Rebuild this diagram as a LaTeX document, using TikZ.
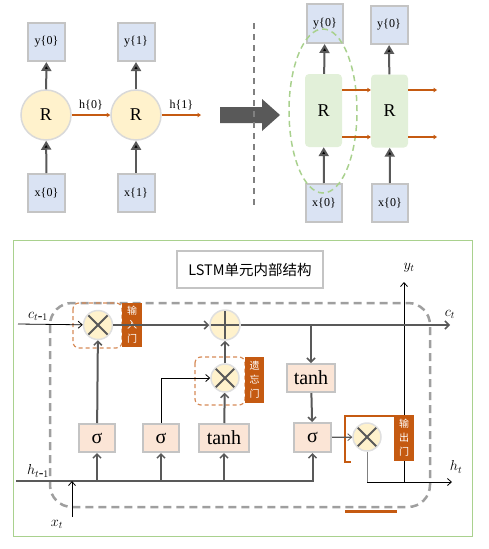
\documentclass[tikz,border=0pt]{standalone}
\usepackage{fontspec}
\setmainfont{Liberation Serif}
\newfontfamily\cjk{Noto Sans CJK SC}
\usetikzlibrary{arrows.meta}
\definecolor{boxblue}{HTML}{DAE3F3}
\definecolor{boxgray}{HTML}{C4C4C4}
\definecolor{cellyel}{HTML}{FFF2CC}
\definecolor{cellgrn}{HTML}{E2F0D9}
\definecolor{lightgrn}{HTML}{A9D18E}
\definecolor{gateorg}{HTML}{C55A11}
\definecolor{actpink}{HTML}{FBE5D6}
\definecolor{linegray}{HTML}{595959}
\newcommand{\sgm}{σ}
\newcommand{\io}[1]{\fontsize{12}{12}\selectfont #1}
\newcommand{\tm}{{t\mbox{-}1}}

\begin{document}
\begin{tikzpicture}[x=1pt,y=-1pt,
  iobox/.style={draw=boxgray,line width=2pt,fill=boxblue,inner sep=0pt,font=\io},
  rcirc/.style={circle,draw=gray!30,line width=1.5pt,fill=cellyel,minimum size=50pt,inner sep=0pt,font=\fontsize{18}{18}\selectfont},
  rcell/.style={rounded corners=4pt,fill=cellgrn,minimum width=37pt,minimum height=73pt,inner sep=0pt,font=\fontsize{18}{18}\selectfont},
  up/.style={draw=linegray,line width=2pt,-{Triangle[length=9pt,width=10pt,fill=black]}},
  hline/.style={draw=gateorg,line width=1.2pt,-{Straight Barb[length=3pt,width=4pt,line width=0.6pt]}},
  act/.style={draw=boxgray,line width=2pt,fill=actpink,minimum height=28pt,inner sep=0pt,font=\fontsize{20}{20}\selectfont},
  mul/.style={circle,draw=gray!25,line width=1.5pt,fill=cellyel,minimum size=29pt,inner sep=0pt,
    path picture={\draw[linegray,line width=1.8pt] (path picture bounding box.north west) -- (path picture bounding box.south east)
      (path picture bounding box.north east) -- (path picture bounding box.south west);}},
  addc/.style={circle,draw=gray!25,line width=1.5pt,fill=cellyel,minimum size=30pt,inner sep=0pt,
    path picture={\draw[linegray,line width=1.8pt] (path picture bounding box.north) -- (path picture bounding box.south)
      (path picture bounding box.east) -- (path picture bounding box.west);}},
  gate/.style={fill=gateorg,text=white,inner sep=0pt,minimum width=20pt,align=center,font=\cjk\fontsize{10}{14}\selectfont},
  big/.style={draw=linegray,line width=2pt,-{Straight Barb[length=4pt,width=8pt,line width=1.5pt]}},
  thin/.style={draw=black,line width=0.8pt,-{Straight Barb[length=4pt,width=7pt,line width=0.8pt]}},
  lab/.style={font=\fontsize{12}{12}\selectfont},
  var/.style={font=\fontsize{14}{14}\selectfont}]
  \useasboundingbox (0,0) rectangle (488,549);
  % unrolled RNN
  \node[iobox,minimum width=37pt,minimum height=38pt] (y0) at (46.5,42) {y\{0\}};
  \node[iobox,minimum width=37pt,minimum height=38pt] (y1) at (136,42) {y\{1\}};
  \node[rcirc] (r0) at (46,115) {R};
  \node[rcirc] (r1) at (136,115) {R};
  \node[iobox,minimum width=37pt,minimum height=38pt] (x0) at (46.5,193) {x\{0\}};
  \node[iobox,minimum width=37pt,minimum height=38pt] (x1) at (136,193) {x\{1\}};
  \coordinate (h1end) at (201,115);
  \draw[up] (x0) -- (r0);
  \draw[up] (r0) -- (y0);
  \draw[up] (x1) -- (r1);
  \draw[up] (r1) -- (y1);
  \draw[hline] (r0) -- (r1) node[midway,above=1pt,lab,text=black]{h\{0\}};
  \draw[hline] (r1) -- (h1end) node[midway,above=1pt,lab,text=black]{h\{1\}};
  \fill[linegray] (220,107) -- (262,107) -- (262,99) -- (280,115) -- (262,131) -- (262,123) -- (220,123) -- cycle;
  \draw[gray,line width=1.5pt,dash pattern=on 6pt off 5pt] (254,23) -- (254,208);
  \node[iobox,minimum width=36pt,minimum height=39pt] (ya) at (325,23.5) {y\{0\}};
  \node[iobox,minimum width=37pt,minimum height=38pt] (yb) at (389,25) {y\{0\}};
  \node[rcell] (ra) at (323.5,110.5) {R};
  \node[rcell] (rb) at (389.5,111) {R};
  \node[iobox,minimum width=36pt,minimum height=38pt] (xa) at (324,203) {x\{0\}};
  \node[iobox,minimum width=36pt,minimum height=38pt] (xb) at (390,203) {x\{0\}};
  \draw[lightgrn,line width=1.5pt,dash pattern=on 6pt off 4pt] (323,111) ellipse [x radius=34pt,y radius=82pt];
  \draw[up] (xa) -- (ra);
  \draw[up] (ra) -- (ya);
  \draw[up] (xb) -- (rb);
  \draw[up] (rb) -- (yb);
  \coordinate (hu) at (0,90);
  \coordinate (hd) at (0,137);
  \coordinate (huend) at (437,90);
  \coordinate (hdend) at (437,137);
  \draw[hline] (ra.east |- hu) -- (rb.west |- hu);
  \draw[hline] (ra.east |- hd) -- (rb.west |- hd);
  \draw[hline] (rb.east |- hu) -- (huend);
  \draw[hline] (rb.east |- hd) -- (hdend);
  % LSTM cell
  \draw[lightgrn,line width=1pt] (13,240) rectangle (472,536);
  \node[draw=boxgray,line width=2pt,fill=white,minimum width=146pt,minimum height=37pt,inner sep=0pt,
    font=\cjk\fontsize{14.5}{14.5}\selectfont] (title) at (250,269.5) {LSTM单元内部结构};
  \draw[gray!75,line width=2.5pt,dash pattern=on 8pt off 5pt,rounded corners=22pt] (50,303) rectangle (430,507);
  \draw[gateorg!70,line width=1.2pt,dash pattern=on 4pt off 3pt,rounded corners=6pt] (73,303) rectangle (122,348);
  \draw[gateorg!70,line width=1.2pt,dash pattern=on 4pt off 3pt,rounded corners=6pt] (195,357) rectangle (245,405);
  \draw[gateorg,line width=1.5pt] (397,416) -- (345,416) -- (345,462) -- (351,462);
  \draw[gateorg,line width=3pt] (345,511) -- (397,511);
  \coordinate (yj) at (404,482);
  \coordinate (yout) at (404,282);
  \draw[thin] (yj) -- (yout);
  \node[var] at (409,268) {$y_t$};
  \node[mul] (mi) at (98,325) {};
  \node[addc] (pl) at (225,325) {};
  \node[mul,minimum size=28pt] (mf) at (225,378) {};
  \node[mul,minimum size=28pt] (mo) at (367,437) {};
  \node[act,minimum width=36pt] (s1) at (97,438) {\sgm};
  \node[act,minimum width=36pt] (s2) at (161,438) {\sgm};
  \node[act,minimum width=50pt] (t1) at (224,438) {tanh};
  \node[act,minimum width=48pt] (t2) at (311,378) {tanh};
  \node[act,minimum width=37pt,minimum height=29pt] (s3) at (312.5,437.5) {\sgm};
  \node[gate,minimum height=44pt] (gi) at (132,325) {输\\入\\门};
  \node[gate,minimum height=46pt,minimum width=19pt] (gf) at (254.5,380) {遗\\忘\\门};
  \node[gate,minimum height=46pt] (go) at (404,438) {输\\出\\门};
  \coordinate (cin) at (18,324);
  \coordinate (cout) at (450,325);
  \coordinate (hin) at (16,481);
  \coordinate (xin) at (72,517);
  \coordinate (hj) at (367,482);
  \coordinate (hout) at (452,482);
  \draw[thin] (cin) -- (mi);
  \node[var] at (38,316) {$c_\tm$};
  \draw[big] (mi) -- (pl);
  \draw[big] (pl) -- (cout);
  \node[var] at (450,314) {$c_t$};
  \draw[big] (mf) -- (pl);
  \draw[big] (s1) -- (mi);
  \draw[big] (t1) -- (mf);
  \draw[thin] (s2.north) |- (mf.west);
  \draw[big] (t2 |- pl) -- (t2);
  \draw[big] (t2) -- (s3);
  \draw[thin,line width=1.3pt,draw=linegray] (s3) -- (mo);
  \draw[big] (hin) -| (s3);
  \draw[big] (s1 |- hin) -- (s1);
  \draw[big] (s2 |- hin) -- (s2);
  \draw[big] (t1 |- hin) -- (t1);
  \node[var] at (38,471) {$h_\tm$};
  \draw[thin] (xin) -- (xin |- hin);
  \node[var] at (57,524) {$x_t$};
  \draw[gray,line width=0.8pt] (mo) -- (hj);
  \draw[thin] (hj) -- (hout);
  \node[var] at (456,467) {$h_t$};
\end{tikzpicture}
\end{document}
